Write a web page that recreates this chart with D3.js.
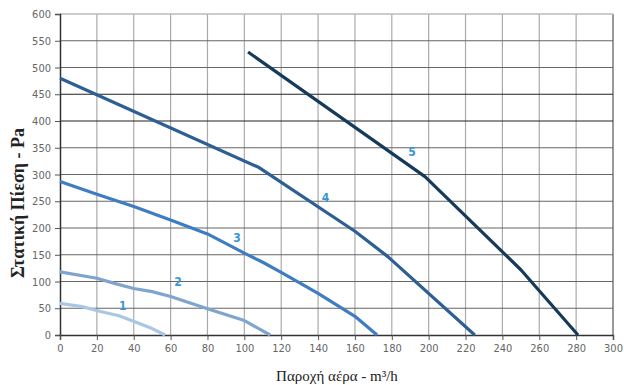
<!DOCTYPE html>
<html><head><meta charset="utf-8">
<script src="https://cdn.jsdelivr.net/npm/d3@7"></script>
<style>body{margin:0;background:#fff}svg{display:block}</style>
</head><body><svg id="c" width="624" height="385"></svg>
<script>
const xTicks = [0,20,40,60,80,100,120,140,160,180,200,220,240,260,280,300];
const yTicks = [0,50,100,150,200,250,300,350,400,450,500,550,600];
const curveNames = ["1","2","3","4","5"];
const curve1 = [[0,59],[12,53],[22,44],[32,36],[42,23],[50,12],[57,0]];
const curve2 = [[0,118],[20,106],[30,96],[40,87],[50,81],[60,72],[80,49],[100,27],[114,0]];
const curve3 = [[0,287],[20,263],[40,240],[60,215],[80,189],[100,153],[110,136],[120,117],[140,78],[160,35],[172,0]];
const curve4 = [[0,480],[108,313],[160,194],[178,146],[225,0]];
const curve5 = [[102,529],[198,296],[250,122],[281,0]];
const labelPos = [[34,47],[64,92],[96,174],[144,249],[191,335]];
const curves = [curve1,curve2,curve3,curve4,curve5];
const colors = ["#a9c6e2","#7fa5cf","#3f7dc2","#2d5f94","#163a59"];

const svg = d3.select("#c");
const x = d3.scaleLinear().domain([0,300]).range([60,613]);
const y = d3.scaleLinear().domain([0,600]).range([335,14]);
const tickFont = "'Liberation Sans Narrow','DejaVu Sans Condensed',Roboto,sans-serif";

svg.append("g").selectAll("line").data(xTicks.slice(1)).join("line")
  .attr("x1",d=>x(d)).attr("x2",d=>x(d)).attr("y1",y(600)).attr("y2",y(0))
  .attr("stroke",d=>d===300?"#999":"#aaa").attr("stroke-width",d=>d===300?2:1.2);
svg.append("g").selectAll("line").data(yTicks.slice(1)).join("line")
  .attr("x1",x(0)).attr("x2",x(300)).attr("y1",d=>y(d)).attr("y2",d=>y(d))
  .attr("stroke",d=>d===600?"#bbb":(d===400||d===450?"#222":"#666")).attr("stroke-width",d=>d===600?1.5:1.2);

const yAxis = svg.append("g").attr("transform",`translate(${x(0)},0)`)
  .call(d3.axisLeft(y).tickValues(yTicks).tickSize(5).tickPadding(4));
const xAxis = svg.append("g").attr("transform",`translate(0,${y(0)})`)
  .call(d3.axisBottom(x).tickValues(xTicks).tickSize(5).tickPadding(4));
[xAxis,yAxis].forEach(a=>{
  a.select(".domain").attr("stroke","#333").attr("stroke-width",1.5);
  a.selectAll(".tick line").attr("stroke","#555");
  a.selectAll("text").attr("fill","#666").attr("font-size",11).attr("font-family",tickFont);
});

const line = d3.line().x(d=>x(d[0])).y(d=>y(d[1]));
svg.append("g").selectAll("path").data(curves).join("path")
  .attr("d",line).attr("fill","none")
  .attr("stroke",(d,i)=>colors[i]).attr("stroke-width",3.2)
  .attr("stroke-linejoin","round");

svg.append("g").selectAll("text").data(curveNames).join("text")
  .attr("x",(d,i)=>x(labelPos[i][0])).attr("y",(d,i)=>y(labelPos[i][1]))
  .attr("text-anchor","middle").attr("fill","#3a95d6")
  .attr("font-size",12).attr("font-weight","bold").attr("font-family",tickFont)
  .text(d=>d);

svg.append("text").attr("transform","translate(24,203) rotate(-90)")
  .attr("text-anchor","middle").attr("font-family","'Liberation Serif','DejaVu Serif',serif")
  .attr("font-weight","bold").attr("font-size",18).attr("fill","#222")
  .text("Στατική Πίεση - Pa");
svg.append("text").attr("x",337).attr("y",381)
  .attr("text-anchor","middle").attr("font-family","'Liberation Serif','DejaVu Serif',serif")
  .attr("font-size",15).attr("fill","#222")
  .text("Παροχή αέρα - m³/h");
</script></body></html>
